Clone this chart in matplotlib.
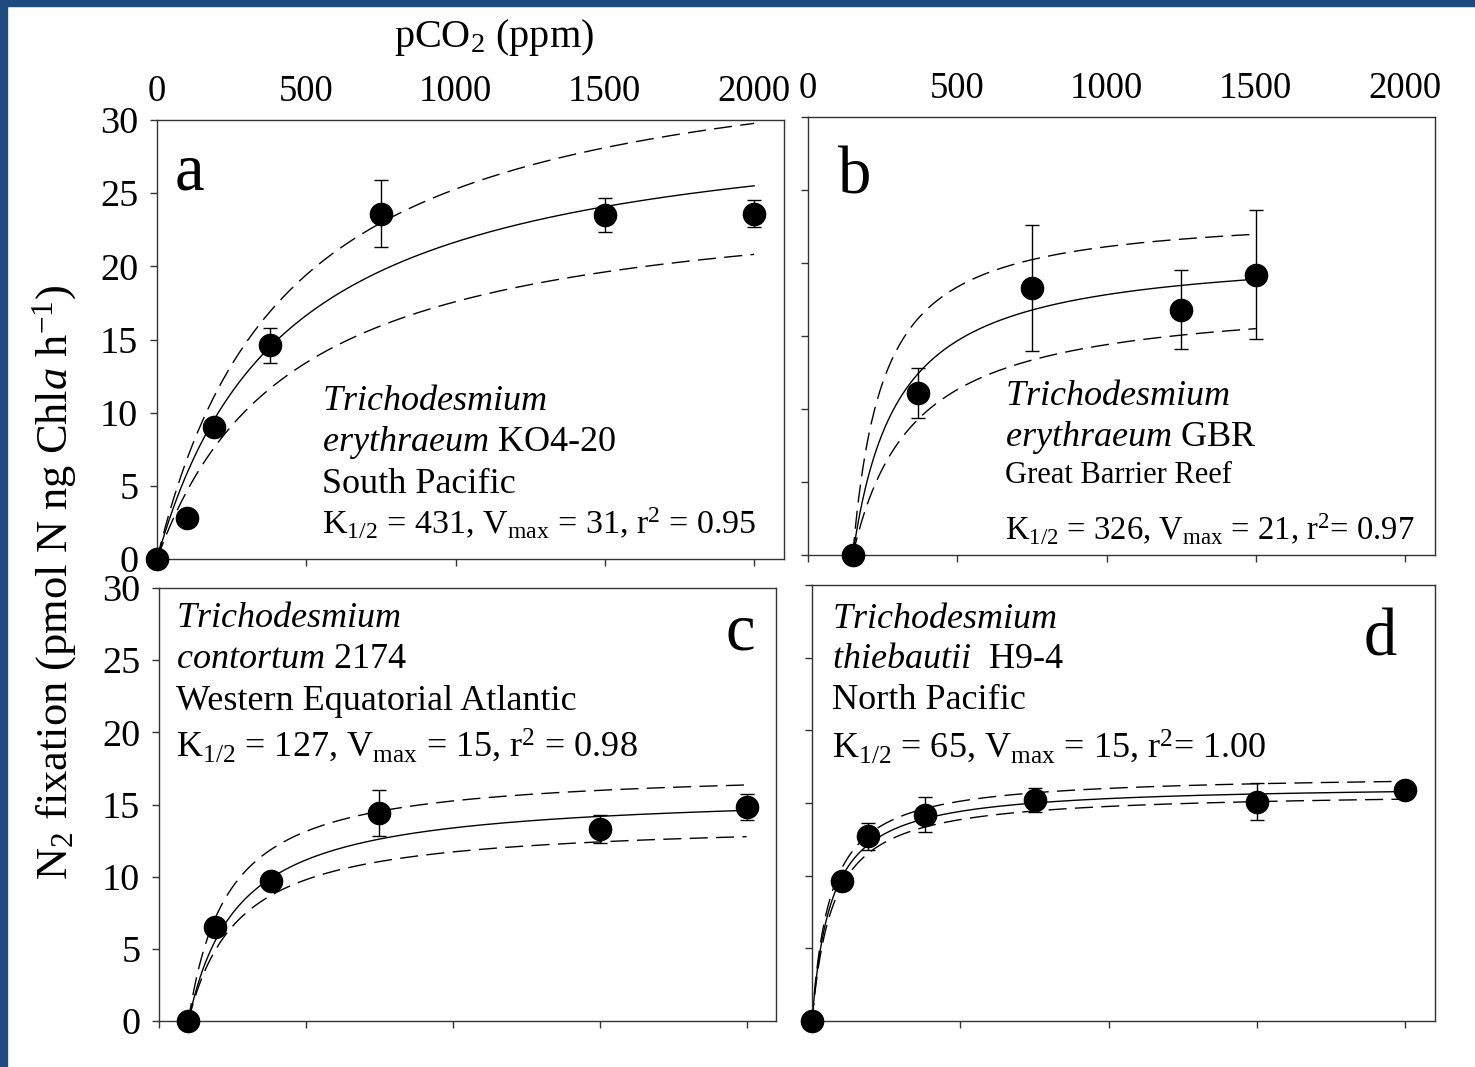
import numpy as np
import matplotlib
matplotlib.use("Agg")
import matplotlib.pyplot as plt
from matplotlib.patches import Rectangle

plt.rcParams["font.family"] = ["Liberation Serif", "DejaVu Serif"]
plt.rcParams["mathtext.fontset"] = "custom"
plt.rcParams["mathtext.rm"] = "Liberation Serif"
plt.rcParams["mathtext.it"] = "Liberation Serif:italic"
plt.rcParams["mathtext.bf"] = "Liberation Serif:bold"
plt.rcParams["mathtext.default"] = "regular"

# -------------------------------
# Data (pCO2 in ppm, N2 fixation)
# -------------------------------
pco2_a = [0, 100, 190, 380, 750, 1500, 2000]
n2fix_a = [0, 2.8, 9.0, 14.6, 23.6, 23.5, 23.6]
err_a = [0, 0, 0, 1.2, 2.3, 1.15, 0.9]

pco2_b = [150, 370, 750, 1250, 1500]
n2fix_b = [0, 11.1, 18.3, 16.8, 19.2]
err_b = [0, 1.7, 4.3, 2.7, 4.4]

pco2_c = [100, 190, 380, 750, 1500, 2000]
n2fix_c = [0, 6.5, 9.7, 14.4, 13.3, 14.8]
err_c = [0, 0, 0, 1.6, 1.0, 0.9]

pco2_d = [0, 100, 190, 380, 750, 1500, 2000]
n2fix_d = [0, 9.6, 12.7, 14.2, 15.2, 15.1, 15.9]
err_d = [0, 0.6, 0.9, 1.2, 0.8, 1.3, 0.5]

# Michaelis-Menten fits drawn in each panel: (onset pCO2, Vmax, K) for
# fit, upper and lower bound, estimated from the plotted curves
fit_a = [(0, 31.0, 431), (0, 36.2, 432), (0, 25.5, 450)]
fit_b = [(150, 21.0, 151), (150, 23.6, 100), (150, 17.8, 200)]
fit_c = [(100, 15.9, 170), (100, 17.5, 133), (100, 13.9, 168)]
fit_d = [(0, 16.3, 65), (0, 17.0, 62), (0, 15.8, 70)]
fit_end = [2000, 1500, 2000, 2000]

xticks = [0, 500, 1000, 1500, 2000]
yticks = [0, 5, 10, 15, 20, 25, 30]

W, H = 1475, 1067
fig = plt.figure(figsize=(W / 100, H / 100), dpi=100)

# blue slide frame (left and top)
fig.patches.append(Rectangle((0, 0), 7 / W, 1, transform=fig.transFigure,
                             color="#1F4A7D", zorder=0))
fig.patches.append(Rectangle((0, 1 - 6 / H), 1, 6 / H, transform=fig.transFigure,
                             color="#1F4A7D", zorder=0))


def px_axes(l, r, t, b):
    return fig.add_axes([l / W, 1 - b / H, (r - l) / W, (b - t) / H])


ax_a = px_axes(157, 784, 120, 559)
ax_b = px_axes(808, 1435, 117, 555)
ax_c = px_axes(159, 776, 588, 1021)
ax_d = px_axes(812, 1435, 585, 1021)

panels = [
    (ax_a, pco2_a, n2fix_a, err_a, fit_a, fit_end[0]),
    (ax_b, pco2_b, n2fix_b, err_b, fit_b, fit_end[1]),
    (ax_c, pco2_c, n2fix_c, err_c, fit_c, fit_end[2]),
    (ax_d, pco2_d, n2fix_d, err_d, fit_d, fit_end[3]),
]

for i, (ax, x, y, e, fits, xend) in enumerate(panels):
    for j, (x0, vmax, k) in enumerate(fits):
        xx = np.linspace(x0, xend, 600)
        yy = vmax * (xx - x0) / (k + xx - x0)
        if j == 0:
            ax.plot(xx, yy, color="black", lw=1.0, zorder=2)
        else:
            ax.plot(xx, yy, color="black", lw=1.0, ls=(0, (13, 6)), zorder=2)
    e_plot = [v if v > 0 else np.nan for v in e]
    ax.errorbar(x, y, yerr=e_plot, fmt="none", ecolor="black", elinewidth=1.0,
                capsize=5, capthick=1.0, zorder=3, clip_on=False)
    ax.plot(x, y, "o", color="black", ms=16, zorder=4, clip_on=False)

    ax.set_xlim(0, 2100)
    ax.set_ylim(0, 30)
    ax.set_xticks(xticks)
    ax.set_yticks(yticks)
    for s in ax.spines.values():
        s.set_linewidth(1.0)
        s.set_color("#333333")
    ax.tick_params(axis="both", direction="out", length=5, width=1.0,
                   color="#333333")
    ax.tick_params(axis="x", top=False, bottom=True, labelbottom=False,
                   labeltop=(i < 2), pad=3, labelsize=26.5)
    ax.tick_params(axis="y", left=True, right=False, labelleft=(i % 2 == 0),
                   pad=8.5, labelsize=27.5)

# axis titles
fig.text(494 / W, 1 - 38 / H, "pCO$_2$ (ppm)", fontsize=29, ha="center", va="center")
fig.text(55 / W, 1 - 582 / H, r"N$_2$ fixation (pmol N ng Chl$\mathit{a}$ h$^{-1}$)",
         fontsize=32, rotation=90, ha="center", va="center")


def ftext(x, y, s, size=26, **kw):
    fig.text(x / W, 1 - y / H, s, fontsize=size, va="baseline", ha="left", **kw)


# panel letters
ftext(175, 190, "a", size=48)
ftext(838, 193, "b", size=48)
ftext(726, 650, "c", size=48)
ftext(1364, 656, "d", size=48)

# panel a
ftext(322, 410, r"$\mathit{Trichodesmium}$")
ftext(322, 451, r"$\mathit{erythraeum}$ KO4-20")
ftext(322, 493, "South Pacific")
ftext(322, 534, r"K$_{1/2}$ = 431, V$_{max}$ = 31, r$^2$ = 0.95", size=24.5)

# panel b
ftext(1005, 405, r"$\mathit{Trichodesmium}$")
ftext(1005, 446, r"$\mathit{erythraeum}$ GBR")
ftext(1005, 483, "Great Barrier Reef", size=22)
ftext(1005, 540, r"K$_{1/2}$ = 326, V$_{max}$ = 21, r$^2$= 0.97", size=23.5)

# panel c
ftext(176, 627, r"$\mathit{Trichodesmium}$")
ftext(176, 668, r"$\mathit{contortum}$ 2174")
ftext(176, 710, "Western Equatorial Atlantic")
ftext(176, 757, r"K$_{1/2}$ = 127, V$_{max}$ = 15, r$^2$ = 0.98")

# panel d
ftext(832, 628, r"$\mathit{Trichodesmium}$")
ftext(832, 668, r"$\mathit{thiebautii}$  H9-4")
ftext(832, 709, "North Pacific")
ftext(832, 758, r"K$_{1/2}$ = 65, V$_{max}$ = 15, r$^2$= 1.00")

fig.savefig("out.png", dpi=100)
